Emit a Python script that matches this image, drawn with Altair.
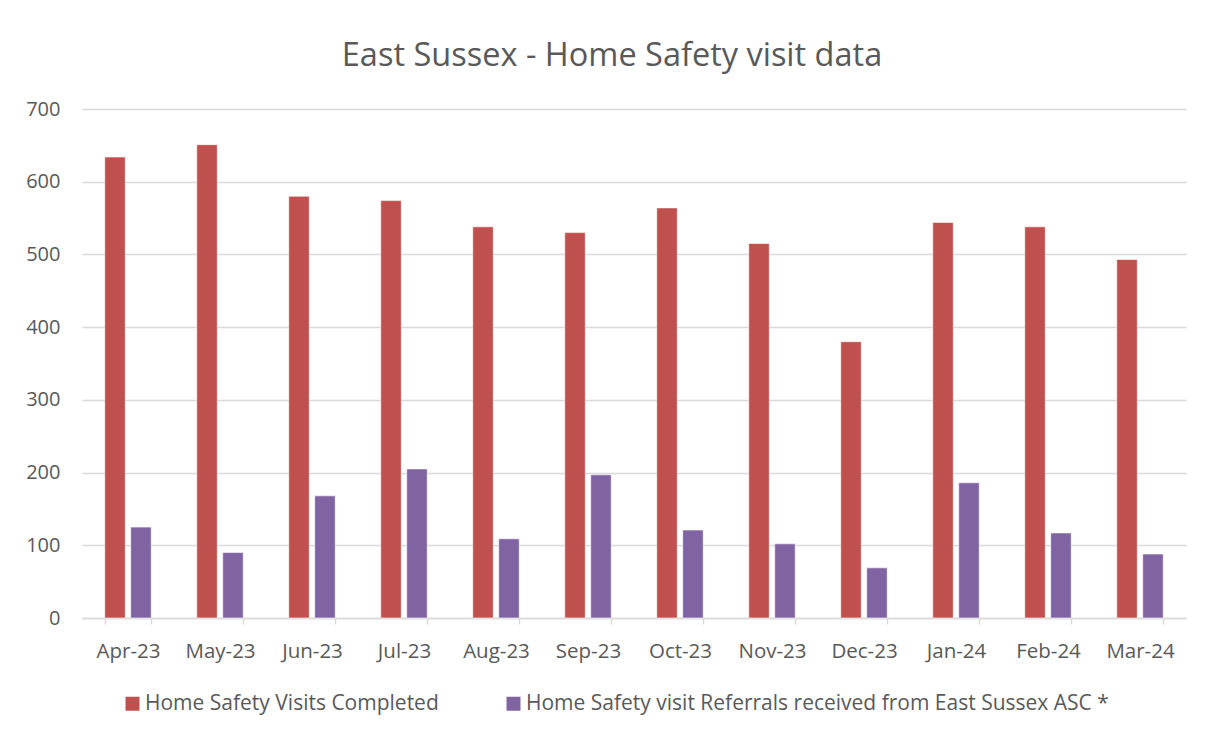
import altair as alt
import pandas as pd

months = ["Apr-23", "May-23", "Jun-23", "Jul-23", "Aug-23", "Sep-23",
          "Oct-23", "Nov-23", "Dec-23", "Jan-24", "Feb-24", "Mar-24"]
completed = [634, 651, 580, 574, 538, 530, 564, 515, 380, 544, 538, 493]
referrals = [125, 90, 168, 205, 109, 197, 121, 102, 69, 186, 117, 88]
series = ["Home Safety Visits Completed",
          "Home Safety visit Referrals received  from East Sussex ASC *"]
colors = ["#C0504D", "#8064A2"]

rows = []
for m, c, r in zip(months, completed, referrals):
    rows.append({"month": m, "series": series[0], "value": c})
    rows.append({"month": m, "series": series[1], "value": r})
df = pd.DataFrame(rows)

FONT = "Open Sans"
TXT = "#595959"
GRID = "#D9D9D9"

chart = alt.Chart(df).mark_bar(stroke="white", strokeWidth=0.6).encode(
    x=alt.X("month:N", sort=months, title=None,
            scale=alt.Scale(paddingInner=0.495, paddingOuter=0.2475),
            axis=alt.Axis(labelAngle=0, labelFont=FONT, labelFontSize=20.5,
                          labelColor=TXT, labelPadding=17, tickBand="extent",
                          domainColor=GRID, domainWidth=1.5, tickColor=GRID,
                          tickWidth=1.5, tickSize=6, grid=False)),
    xOffset=alt.XOffset("series:N", sort=series,
                        scale=alt.Scale(paddingInner=0.21, paddingOuter=0)),
    y=alt.Y("value:Q", title=None,
            scale=alt.Scale(domain=[0, 700], nice=False),
            axis=alt.Axis(values=[0, 100, 200, 300, 400, 500, 600, 700],
                          labelFont=FONT, labelFontSize=20, labelColor=TXT,
                          labelPadding=22, domain=False, ticks=False,
                          gridColor=GRID, gridWidth=1.5)),
    color=alt.Color("series:N", sort=series,
                    scale=alt.Scale(domain=series, range=colors),
                    legend=alt.Legend(orient="none", legendX=40, legendY=584,
                                      direction="horizontal",
                                      title=None, labelFont=FONT,
                                      labelFontSize=21, labelColor=TXT,
                                      labelLimit=0, symbolType="square",
                                      symbolSize=196, symbolStrokeWidth=0,
                                      columnPadding=64, labelOffset=2)),
).properties(
    width=1104,
    height=509,
    title=alt.TitleParams("East Sussex - Home Safety visit data", font=FONT,
                          fontSize=32.5, fontWeight="normal", color=TXT,
                          anchor="middle", offset=27, dx=-22),
    padding={"left": 17, "top": 31, "right": 5, "bottom": 5},
).configure_view(stroke=None)

chart.save("out.html", embed_options={"renderer": "svg", "actions": False})
